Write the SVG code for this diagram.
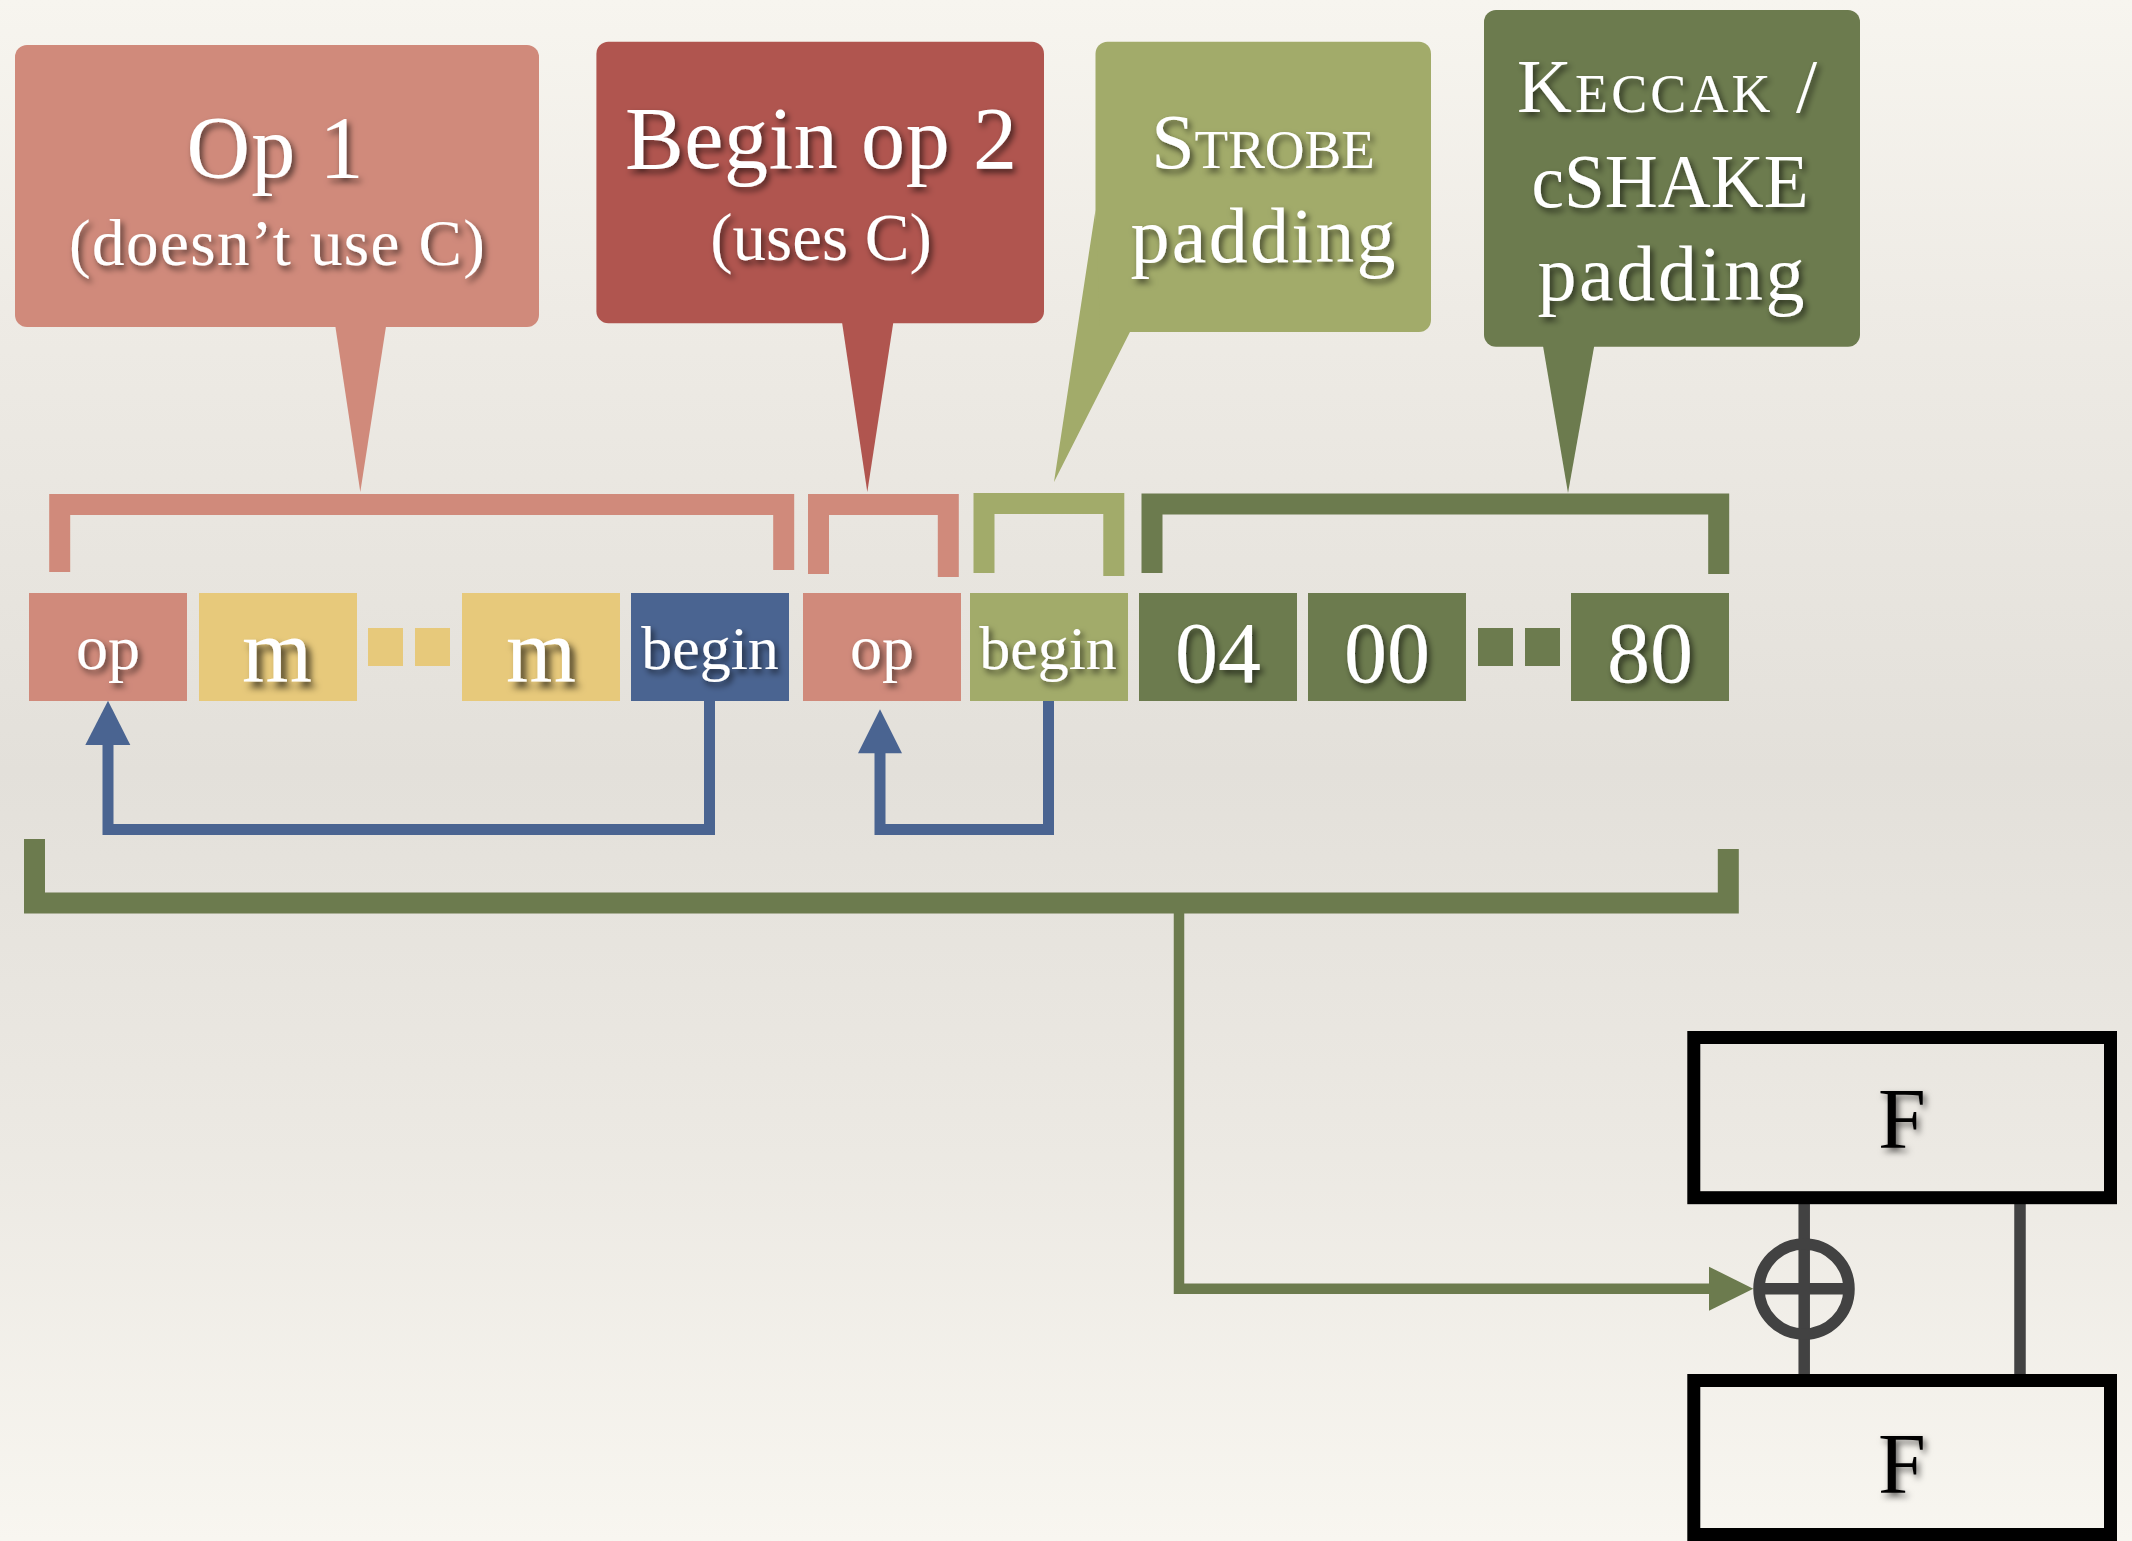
<svg xmlns="http://www.w3.org/2000/svg" width="2132" height="1541" viewBox="0 0 2132 1541">
<defs>
<linearGradient id="bg" x1="0" y1="0" x2="0" y2="1">
<stop offset="0" stop-color="#F7F5EF"/>
<stop offset="0.2" stop-color="#EEEBE5"/>
<stop offset="0.5" stop-color="#E3E0DA"/>
<stop offset="0.75" stop-color="#ECE9E3"/>
<stop offset="1" stop-color="#F8F6F0"/>
</linearGradient>
<filter id="sh" x="-20%" y="-20%" width="150%" height="150%">
<feDropShadow dx="3" dy="4" stdDeviation="3" flood-color="#000" flood-opacity="0.6"/>
</filter>
<filter id="shm" x="-20%" y="-20%" width="150%" height="150%">
<feDropShadow dx="5" dy="6" stdDeviation="3.5" flood-color="#000" flood-opacity="0.7"/>
</filter>
</defs>
<style>
text{font-family:"Liberation Serif","Times New Roman",serif;text-anchor:middle}
.w{fill:#FFFFFF;filter:url(#sh)}
.k{fill:#000000;filter:url(#sh)}
.pink{fill:#D08A7B}
.red{fill:#B0554F}
.lg{fill:#A2AB6A}
.dg{fill:#6C7B4E}
.yel{fill:#E7C97B}
.blue{fill:#4A6491}
.brk{fill:none;stroke-width:21;stroke-linejoin:miter;stroke-linecap:butt}
.bl{fill:none;stroke:#4A6491;stroke-width:11;stroke-linejoin:miter}
.gl{fill:none;stroke:#6C7B4E;stroke-width:10.5;stroke-linejoin:miter}
.gray{fill:none;stroke:#424242;stroke-width:11.5}
.fbox{fill:none;stroke:#000;stroke-width:13}
</style>
<rect x="0" y="0" width="2132" height="1541" fill="url(#bg)"/>

<g id="callout-op1">
<rect class="pink" x="15" y="45" width="524" height="282" rx="12"/>
<polygon class="pink" points="334.4,320 387,320 360.3,492"/>
<text class="w" x="275" y="177" font-size="88" textLength="177" lengthAdjust="spacing">Op 1</text>
<text class="w" x="277" y="265" font-size="65" textLength="416" lengthAdjust="spacing">(doesn’t use C)</text>
</g>

<g id="callout-begin-op2">
<rect class="red" x="596.4" y="41.7" width="447.6" height="281.6" rx="12"/>
<polygon class="red" points="841.4,318 894,318 867.3,492"/>
<text class="w" x="821" y="168.3" font-size="88" textLength="392" lengthAdjust="spacing">Begin op 2</text>
<text class="w" x="821" y="260" font-size="67">(uses C)</text>
</g>

<g id="callout-strobe">
<rect class="lg" x="1095.5" y="41.7" width="335.5" height="290.3" rx="12"/>
<polygon class="lg" points="1095.5,210 1054,482 1133,326 1100,326"/>
<text class="w" x="1263" y="168.3"><tspan font-size="78">S</tspan><tspan font-size="55">TROBE</tspan></text>
<text class="w" x="1263" y="261.7" font-size="78" textLength="265" lengthAdjust="spacing">padding</text>
</g>

<g id="callout-keccak">
<rect class="dg" x="1484" y="10" width="376" height="336.7" rx="12"/>
<polygon class="dg" points="1542,340 1595.3,340 1568,493"/>
<text class="w" x="1667" y="112" textLength="300" lengthAdjust="spacing"><tspan font-size="76">K</tspan><tspan font-size="54">ECCAK</tspan><tspan font-size="76"> /</tspan></text>
<text class="w" x="1670" y="207" font-size="76" textLength="277" lengthAdjust="spacingAndGlyphs">cSHAKE</text>
<text class="w" x="1671" y="300" font-size="78" textLength="267" lengthAdjust="spacing">padding</text>
</g>

<g id="brackets">
<path class="brk" stroke="#D08A7B" d="M59.7,572 V504.5 H783.7 V570"/>
<path class="brk" stroke="#D08A7B" d="M818.5,574 V504.5 H948.3 V577"/>
<path class="brk" stroke="#A2AB6A" d="M984,573 V503.5 H1113.8 V576"/>
<path class="brk" stroke="#6C7B4E" d="M1152,573 V504 H1718.7 V574"/>
<path class="brk" stroke="#6C7B4E" d="M34.5,839 V903 H1728.3 V849"/>
</g>

<g id="cell-op1">
<rect class="pink" x="29" y="593" width="158" height="108"/>
<text class="w" x="108" y="669.3" font-size="64">op</text>
</g>
<g id="cell-m1">
<rect class="yel" x="199" y="593" width="158" height="108"/>
<text class="w" x="277" y="681.7" font-size="90" style="filter:url(#shm)">m</text>
</g>
<g id="dots-m">
<rect class="yel" x="368" y="628" width="35" height="38"/>
<rect class="yel" x="415" y="628" width="35" height="38"/>
</g>
<g id="cell-m2">
<rect class="yel" x="462" y="593" width="158" height="108"/>
<text class="w" x="541" y="681.7" font-size="90" style="filter:url(#shm)">m</text>
</g>
<g id="cell-begin1">
<rect class="blue" x="631" y="593" width="158" height="108"/>
<text class="w" x="710" y="669.3" font-size="62">begin</text>
</g>
<g id="cell-op2">
<rect class="pink" x="803" y="593" width="158" height="108"/>
<text class="w" x="882" y="669.3" font-size="64">op</text>
</g>
<g id="cell-begin2">
<rect class="lg" x="970" y="593" width="158" height="108"/>
<text class="w" x="1048" y="669.3" font-size="62">begin</text>
</g>
<g id="cell-04">
<rect class="dg" x="1139" y="593" width="158" height="108"/>
<text class="w" x="1218" y="681.7" font-size="86">04</text>
</g>
<g id="cell-00">
<rect class="dg" x="1308" y="593" width="158" height="108"/>
<text class="w" x="1387" y="681.7" font-size="86">00</text>
</g>
<g id="dots-pad">
<rect class="dg" x="1478" y="628" width="35" height="38"/>
<rect class="dg" x="1525" y="628" width="35" height="38"/>
</g>
<g id="cell-80">
<rect class="dg" x="1571" y="593" width="158" height="108"/>
<text class="w" x="1650" y="681.7" font-size="86">80</text>
</g>

<g id="connectors">
<polyline class="bl" points="709.5,701 709.5,829.5 108,829.5 108,744"/>
<polygon class="blue" points="85.3,745 108,700.7 130.3,745"/>
<polyline class="bl" points="1048.5,701 1048.5,829.5 880,829.5 880,752"/>
<polygon class="blue" points="858,753.3 880,709.3 902,753.3"/>
<polyline class="gl" points="1179,913 1179,1288.7 1710,1288.7"/>
<polygon class="dg" points="1709,1266.7 1753.3,1288.7 1709,1310.7"/>
<line class="gray" x1="1804.2" y1="1200" x2="1804.2" y2="1376"/>
<line class="gray" x1="2020" y1="1200" x2="2020" y2="1376"/>
<circle class="gray" cx="1804" cy="1289" r="45" stroke-width="11"/>
<line class="gray" x1="1754" y1="1288.7" x2="1854" y2="1288.7" stroke-width="10.7"/>
</g>

<g id="f-top">
<rect class="fbox" x="1693.8" y="1037.5" width="416.7" height="160.2"/>
<text class="k" x="1902" y="1148.3" font-size="86">F</text>
</g>
<g id="f-bottom">
<rect class="fbox" x="1693.8" y="1380.5" width="416.7" height="154"/>
<text class="k" x="1902" y="1493.3" font-size="86">F</text>
</g>
</svg>
